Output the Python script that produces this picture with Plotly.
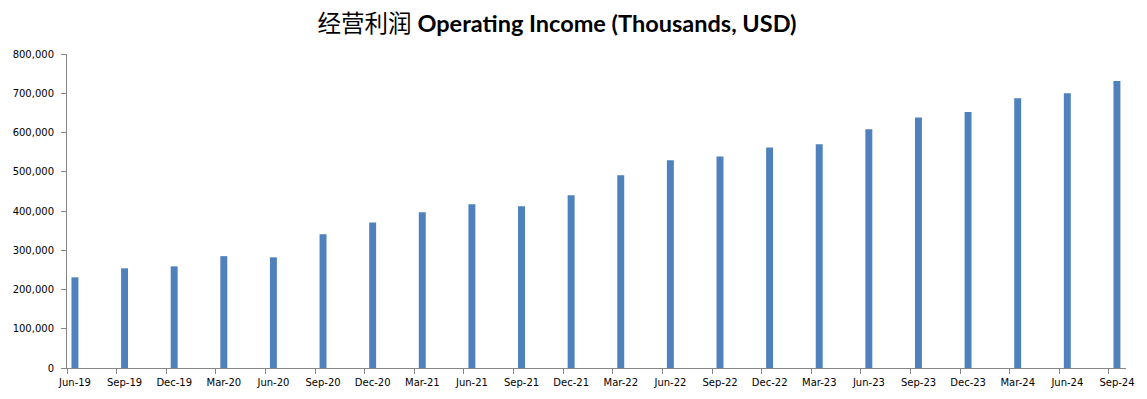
import plotly.graph_objects as go

categories = ["Jun-19", "Sep-19", "Dec-19", "Mar-20", "Jun-20", "Sep-20", "Dec-20", "Mar-21",
              "Jun-21", "Sep-21", "Dec-21", "Mar-22", "Jun-22", "Sep-22", "Dec-22", "Mar-23",
              "Jun-23", "Sep-23", "Dec-23", "Mar-24", "Jun-24", "Sep-24"]
operating_income = [231000, 254000, 259000, 285000, 282000, 341000, 371000, 397000,
                    417000, 412000, 440000, 491000, 529000, 539000, 562000, 570000,
                    608000, 638000, 652000, 687000, 700000, 731000]
y_ticks = [0, 100000, 200000, 300000, 400000, 500000, 600000, 700000, 800000]
y_tick_labels = ["0", "100,000", "200,000", "300,000", "400,000", "500,000", "600,000", "700,000", "800,000"]

n = len(categories)
pos = list(range(n))
tick_offset = 0.16
tick_pos = [p - tick_offset for p in pos]

fig = go.Figure()
fig.add_trace(go.Bar(x=pos, y=operating_income, width=0.14,
                     marker=dict(color="#4F81BD", line=dict(width=0)),
                     hoverinfo="skip"))

# page body has an 8px margin, so the figure is sized/offset to compensate
W, H = 1139, 391
axis_grey = "#868686"
fig.update_layout(
    width=W, height=H,
    margin=dict(l=59, r=21, t=46, b=31, autoexpand=False),
    paper_bgcolor="white", plot_bgcolor="white",
    showlegend=False,
    title=dict(
        text='经营利润 <b>Operating Income (Thousands, USD)</b>',
        x=549 / W, xanchor="center", y=1 - 16 / H, yanchor="middle",
        font=dict(family="Lato, Noto Sans CJK SC", size=23.5, color="black"),
    ),
    xaxis=dict(
        range=[-tick_offset, n - 1 - tick_offset + 17 / 49.6],
        tickmode="array", tickvals=tick_pos, ticktext=categories,
        ticklabelshift=8,
        ticks="outside", ticklen=5, tickcolor=axis_grey, tickwidth=1,
        showline=True, linecolor=axis_grey, linewidth=1,
        showgrid=False, zeroline=False,
        tickfont=dict(family="DejaVu Sans", size=10, color="black"),
    ),
    yaxis=dict(
        range=[0, 800000],
        tickmode="array", tickvals=y_ticks, ticktext=y_tick_labels,
        ticks="outside", ticklen=5, tickcolor=axis_grey, tickwidth=1,
        ticklabelstandoff=5,
        showline=True, linecolor=axis_grey, linewidth=1,
        showgrid=False, zeroline=False,
        tickfont=dict(family="DejaVu Sans", size=10, color="black"),
    ),
)

fig.write_html("out.html")
